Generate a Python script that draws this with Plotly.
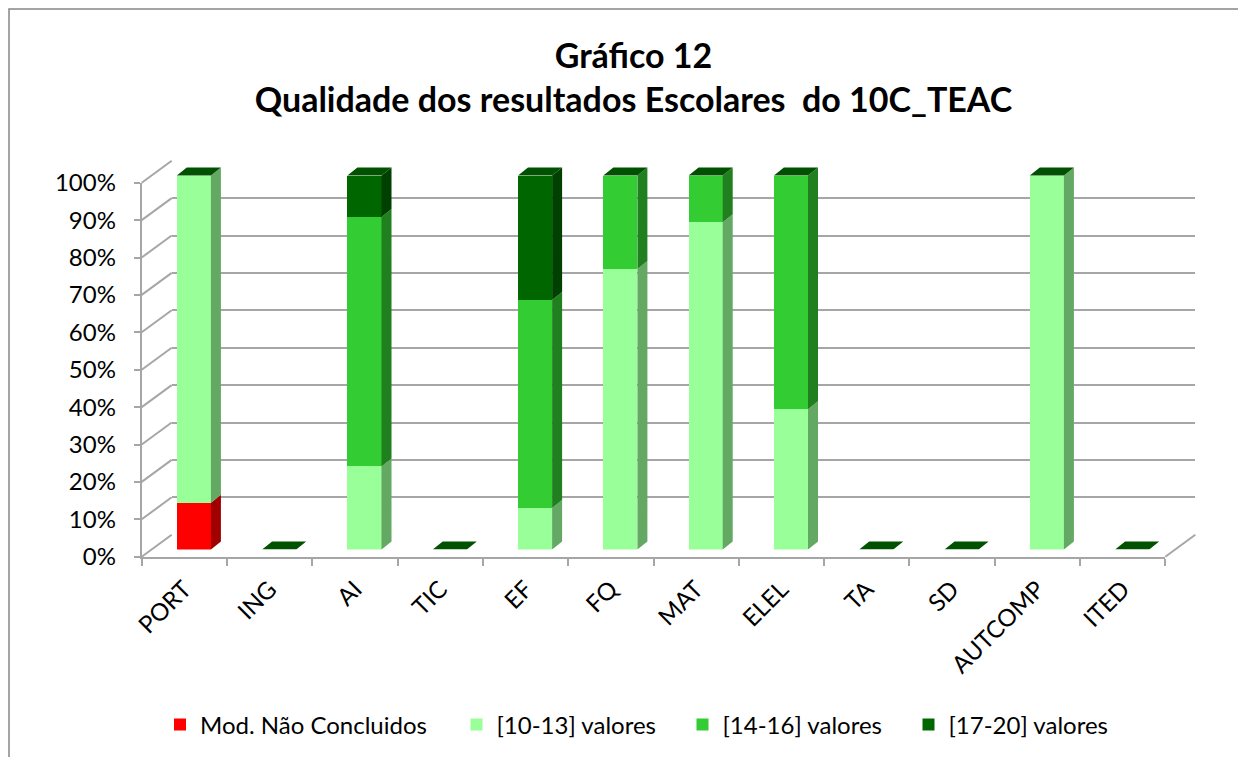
import plotly.graph_objects as go

# ---------------- data ----------------
categories = ["PORT", "ING", "AI", "TIC", "EF", "FQ", "MAT", "ELEL", "TA", "SD", "AUTCOMP", "ITED"]
mod_nao_concluidos = [0.125, 0, 0, 0, 0, 0, 0, 0, 0, 0, 0, 0]
val_10_13 = [0.875, 0, 0.222, 0, 0.111, 0.75, 0.875, 0.375, 0, 0, 1.0, 0]
val_14_16 = [0, 0, 0.667, 0, 0.556, 0.25, 0.125, 0.625, 0, 0, 0, 0]
val_17_20 = [0, 0, 0.111, 0, 0.333, 0, 0, 0, 0, 0, 0, 0]
series_names = ["Mod. Não Concluidos", "[10-13] valores", "[14-16] valores", "[17-20] valores"]
y_tick_vals = [0, 0.1, 0.2, 0.3, 0.4, 0.5, 0.6, 0.7, 0.8, 0.9, 1.0]
y_tick_text = ["0%", "10%", "20%", "30%", "40%", "50%", "60%", "70%", "80%", "90%", "100%"]
title_line1 = "Gráfico 12"
title_line2 = "Qualidade dos resultados Escolares  do 10C_TEAC"

# ---------------- style ----------------
W, H = 1246, 757
OFF = 8                       # page offset of the figure inside the window
FONT = "Lato, 'Open Sans', sans-serif"
front_colors = ["#FF0000", "#99FF99", "#33CC33", "#006600"]
side_colors = ["#A00000", "#63A863", "#208020", "#004000"]
cap_color = "#005200"
grid_color = "#A6A6A6"

# window-pixel geometry of the pseudo-3D frame
FX0, FX1 = 141.7, 1165.3      # front x-axis extent (px)
FY0, FY1 = 556.7, 182.7       # front y pixel of value 0 and 1
BAR_OFF = (9.5, -7.2)         # bar plane offset
BACK_OFF = (30.0, -22.0)      # back wall offset
DEPTH_PX = (10.0, 8.0)        # bar depth (side / top faces)
BAR_W = 0.4

ncat = len(categories)
px_per_cat = (FX1 - FX0) / ncat
px_per_unit = FY0 - FY1


def px(x):
    return (x - OFF) / W


def py(y):
    return 1 - (y - OFF) / H


def domains(off, xr, yr):
    dx, dy = off
    x_lo = FX0 + dx + (xr[0] + 0.5) * px_per_cat
    x_hi = FX0 + dx + (xr[1] + 0.5) * px_per_cat
    y_lo = FY0 + dy - yr[0] * px_per_unit
    y_hi = FY0 + dy - yr[1] * px_per_unit
    return [px(x_lo), px(x_hi)], [py(y_lo), py(y_hi)]


fig = go.Figure()

# ---- back wall (xy): gridlines ----
xr_back, yr_back = [-0.5, 11.5], [-0.002, 1.002]
dxb, dyb = domains(BACK_OFF, xr_back, yr_back)
fig.add_trace(go.Scatter(x=[categories[0]], y=[None], xaxis="x", yaxis="y",
                         showlegend=False, hoverinfo="skip"))

# ---- bars (x2y2) ----
xr_bar, yr_bar = [-0.5, 11.5], [0, 1.06]
dx2, dy2 = domains(BAR_OFF, xr_bar, yr_bar)
all_series = [mod_nao_concluidos, val_10_13, val_14_16, val_17_20]
legend_ids = ["legend", "legend2", "legend3", "legend4"]
for s, vals in enumerate(all_series):
    fig.add_trace(go.Bar(x=list(range(ncat)), y=vals, name=series_names[s], width=BAR_W,
                         marker=dict(color=front_colors[s], line=dict(width=0)),
                         xaxis="x2", yaxis="y2", legend=legend_ids[s],
                         hovertext=categories, hoverinfo="text+y+name"))

ddx = DEPTH_PX[0] / px_per_cat
ddy = DEPTH_PX[1] / px_per_unit
base = [0.0] * ncat
for s, vals in enumerate(all_series):
    xs, ys = [], []
    for i, v in enumerate(vals):
        if v > 0:
            xr = i + BAR_W / 2
            b, t = base[i], base[i] + v
            xs += [xr, xr + ddx, xr + ddx, xr, xr, None]
            ys += [b, b + ddy, t + ddy, t, b, None]
            base[i] = t
    if xs:
        fig.add_trace(go.Scatter(x=xs, y=ys, mode="lines", fill="toself",
                                 fillcolor=side_colors[s], line=dict(width=0),
                                 xaxis="x2", yaxis="y2", showlegend=False,
                                 hoverinfo="skip"))
xs, ys = [], []
for i, t in enumerate(base):
    xl, xr = i - BAR_W / 2, i + BAR_W / 2
    xs += [xl, xr, xr + ddx, xl + ddx, xl, None]
    ys += [t, t, t + ddy, t + ddy, t, None]
fig.add_trace(go.Scatter(x=xs, y=ys, mode="lines", fill="toself", fillcolor=cap_color,
                         line=dict(width=0), xaxis="x2", yaxis="y2",
                         showlegend=False, hoverinfo="skip"))

# ---- front axes (x3y3): labels ----
xr_f, yr_f = [-0.5, 11.5], [0, 1]
dx3, dy3 = domains((0, 0), xr_f, yr_f)
fig.add_trace(go.Scatter(x=categories, y=[None] * ncat, xaxis="x3", yaxis="y3",
                         showlegend=False, hoverinfo="skip"))

hidden = dict(showgrid=False, zeroline=False, showticklabels=False, showline=False, ticks="")
fig.update_layout(
    width=W, height=H,
    margin=dict(l=0, r=0, t=0, b=0, pad=0, autoexpand=False),
    paper_bgcolor="white", plot_bgcolor="rgba(0,0,0,0)",
    font=dict(family=FONT, color="black"),
    barmode="stack",
    title=dict(text=f"<b>{title_line1}</b><br><b>{title_line2}</b>",
               x=px(633.5), xanchor="center", y=1 - 60 / H, yanchor="middle",
               automargin=False,
               font=dict(size=34, family=FONT, color="black")),
    xaxis=dict(domain=dxb, range=xr_back, automargin=False, **hidden),
    yaxis=dict(domain=dyb, range=yr_back, showgrid=True, gridcolor=grid_color, gridwidth=2,
               tickvals=y_tick_vals, showticklabels=False, zeroline=False, showline=False,
               ticks="", automargin=False),
    xaxis2=dict(domain=dx2, range=xr_bar, anchor="y2", automargin=False, **hidden),
    yaxis2=dict(domain=dy2, range=yr_bar, anchor="x2", automargin=False, **hidden),
    xaxis3=dict(domain=dx3, range=xr_f, anchor="y3", type="category", automargin=False,
                tickangle=-45, tickson="boundaries", ticks="outside", ticklen=7,
                tickcolor=grid_color, tickwidth=2, showline=True, linecolor=grid_color,
                linewidth=2, showgrid=False, zeroline=False, ticklabelstandoff=7,
                tickfont=dict(size=24, family=FONT, color="black")),
    yaxis3=dict(domain=dy3, range=yr_f, anchor="x3", tickvals=y_tick_vals, automargin=False,
                ticktext=y_tick_text, ticks="outside", ticklen=6, tickcolor=grid_color,
                tickwidth=2, showline=True, linecolor=grid_color, linewidth=2,
                showgrid=False, zeroline=False, ticklabelstandoff=13,
                tickfont=dict(size=24, family=FONT, color="black")),
    hovermode="closest",
)

# legends, one per series, placed individually (square centre = x + 20 px)
legend_sq_center = [180, 476.5, 702.5, 928.5]
for lid, c in zip(legend_ids, legend_sq_center):
    fig.layout[lid] = dict(x=px(c - 20), xanchor="left", y=py(725), yanchor="middle",
                           orientation="h", bgcolor="rgba(0,0,0,0)",
                           font=dict(size=24, family=FONT, color="black"))

# decorative 3D frame lines (side wall diagonals, floor edge, chart border)
shapes = []
for v in y_tick_vals:
    yf = FY0 - v * px_per_unit
    shapes.append(dict(type="line", xref="paper", yref="paper",
                       x0=px(FX0), y0=py(yf),
                       x1=px(FX0 + BACK_OFF[0]), y1=py(yf + BACK_OFF[1]),
                       line=dict(color=grid_color, width=2), layer="below"))
shapes.append(dict(type="line", xref="paper", yref="paper",
                   x0=px(FX1), y0=py(FY0),
                   x1=px(FX1 + BACK_OFF[0]), y1=py(FY0 + BACK_OFF[1]),
                   line=dict(color=grid_color, width=2), layer="below"))
shapes.append(dict(type="rect", xref="paper", yref="paper",
                   x0=px(9), y0=-0.1, x1=1.1, y1=py(9),
                   line=dict(color="#868686", width=1.5), layer="below"))
fig.update_layout(shapes=shapes)

fig.write_html("out.html")
